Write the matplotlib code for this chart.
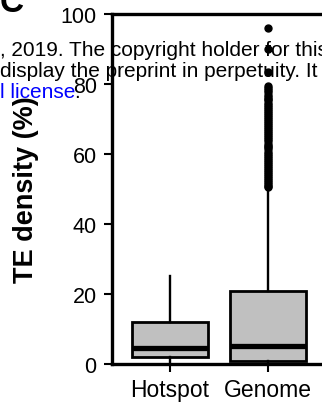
import matplotlib
matplotlib.use("Agg")
import matplotlib.pyplot as plt

plt.rcParams['font.family'] = ['Liberation Sans', 'DejaVu Sans']

# Box statistics (TE density, %)
categories = ["Hotspot", "Genome"]
whislo = [0.0, 0.0]
q1 = [1.9, 1.0]
median = [4.6, 5.2]
q3 = [11.9, 21.0]
whishi = [25.2, 50.3]
hotspotOutliers = []
genomeOutliers = [96.0, 90.0, 83.5, 79.3, 78.8, 78.2, 77.6, 77.0, 76.4, 75.8, 75.3, 74.7,
                  74.1, 73.5, 72.9, 72.3, 71.7, 71.2, 70.6, 70.0, 69.4, 68.8, 68.2, 67.7,
                  67.1, 66.5, 65.9, 65.3, 64.8, 64.2, 63.6, 63.0, 62.4, 61.9, 61.3, 60.7,
                  60.1, 59.5, 59.0, 58.4, 57.8, 57.2, 56.6, 56.1, 55.5, 54.9, 54.3, 53.7,
                  53.2, 52.6, 52.0, 51.5, 51.0, 50.6]
yticks = [0, 20, 40, 60, 80, 100]

fig = plt.figure(figsize=(3.22, 4.10), dpi=100)
ax = fig.add_axes([112/322, 45/410, 216/322, 350/410])

stats = []
outliers = [hotspotOutliers, genomeOutliers]
for i, name in enumerate(categories):
    stats.append({"label": name, "whislo": whislo[i], "q1": q1[i], "med": median[i],
                  "q3": q3[i], "whishi": whishi[i], "fliers": outliers[i]})

ax.bxp(stats, positions=[1, 2], widths=0.77, patch_artist=True, showcaps=False,
       boxprops=dict(facecolor="#c0c0c0", edgecolor="black", linewidth=2.0),
       medianprops=dict(color="black", linewidth=3.8, solid_capstyle="butt"),
       whiskerprops=dict(color="black", linewidth=1.7),
       flierprops=dict(marker="o", markerfacecolor="black", markeredgecolor="black", markersize=5))

ax.set_xlim(0.408, 2.61)
ax.set_ylim(0, 100)
ax.set_yticks(yticks)
ax.tick_params(axis="both", length=5.5, width=1.5, pad=5.5, direction="out")
ax.tick_params(axis="y", labelsize=15.5)
ax.tick_params(axis="x", labelsize=16.5, pad=4.5)
for side in ["left", "bottom", "top", "right"]:
    ax.spines[side].set_linewidth(2.4)

ax.set_ylabel("TE density (%)", fontsize=19.5, fontweight="bold")
ax.yaxis.set_label_coords(-0.34, 0.5)

# Panel letter and preprint text showing through
fig.text(0.0, 398/410, "C", fontsize=24, fontweight="bold", ha="left", va="baseline")
fig.text(0.0, 1 - 50/410, ", 2019. The copyright holder for this", fontsize=15, va="center", ha="left")
fig.text(0.0, 1 - 72/410, "display the preprint in perpetuity. It", fontsize=15, va="center", ha="left")
fig.text(0.0, 1 - 93/410, "l license", fontsize=15, va="center", ha="left", color="blue")
fig.text(74/322, 1 - 93/410, ".", fontsize=15, va="center", ha="left", color="black")

fig.savefig("out.png", dpi=100)
